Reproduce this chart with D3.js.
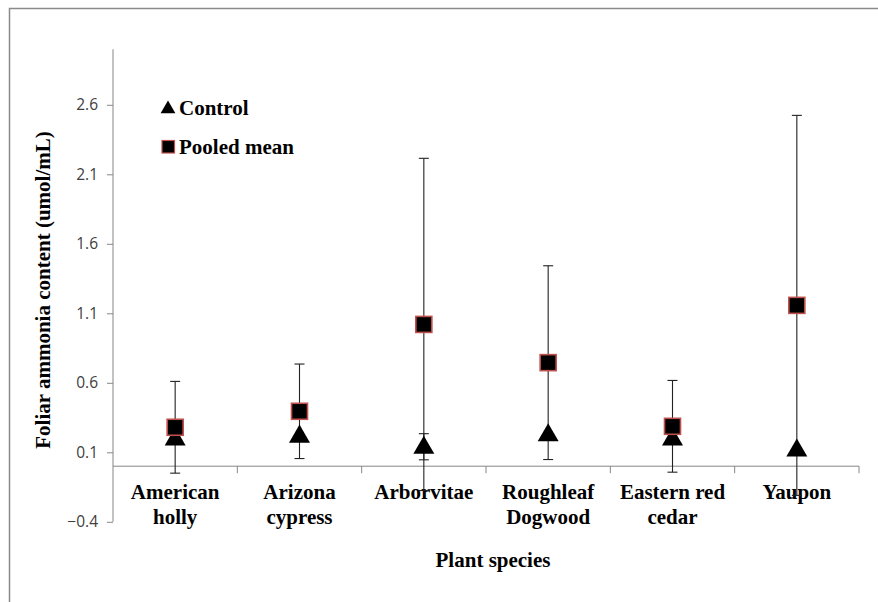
<!DOCTYPE html>
<html><head><meta charset="utf-8">
<script src="https://cdn.jsdelivr.net/npm/d3@7"></script>
<style>html,body{margin:0;padding:0;background:#fff;} svg{display:block;}</style>
</head><body>
<script>
const categories = ["American holly","Arizona cypress","Arborvitae","Roughleaf Dogwood","Eastern red cedar","Yaupon"];
const categoryLines = [["American","holly"],["Arizona","cypress"],["Arborvitae"],["Roughleaf","Dogwood"],["Eastern red","cedar"],["Yaupon"]];
const controlValues = [0.20, 0.22, 0.14, 0.23, 0.20, 0.12];
const controlErrors = [null, null, 0.094, null, null, null];
const pooledValues = [0.28, 0.395, 1.02, 0.745, 0.287, 1.157];
const pooledErrors = [0.33, 0.34, 1.195, 0.697, 0.33, 1.367];
const yTicks = [-0.4, 0.1, 0.6, 1.1, 1.6, 2.1, 2.6];
const seriesNames = ["Control", "Pooled mean"];

const W = 878, H = 602;
const svg = d3.select("body").append("svg").attr("width", W).attr("height", H);

svg.append("rect").attr("x", 9.5).attr("y", 8.5).attr("width", 1000).attr("height", 800)
  .attr("fill", "none").attr("stroke", "#8a8a8a").attr("stroke-width", 1.5);

const x = d3.scaleBand().domain(categories).range([113, 859]).padding(0);
const y = d3.scaleLinear().domain([-0.4, 3.0]).range([521.8, 49.2]);
const cx = c => x(c) + x.bandwidth() / 2;
const axisColor = "#868686";

// y axis
const yAxis = d3.axisLeft(y).tickValues(yTicks).tickSize(6).tickPadding(9).tickFormat(d3.format(".1f"));
const gy = svg.append("g").attr("transform", "translate(113,0)").call(yAxis);
gy.select(".domain").remove();
gy.append("line").attr("x1", 0).attr("x2", 0).attr("y1", y(3.0)).attr("y2", y(-0.4)).attr("stroke", axisColor);
gy.selectAll(".tick line").attr("stroke", axisColor);
gy.selectAll(".tick text").attr("fill", "#404040").style("font-family", "'Open Sans', Lato, sans-serif").style("font-size", "15.5px");

// x axis line at 0
const gx = svg.append("g");
gx.append("line").attr("x1", 113).attr("x2", 859).attr("y1", y(0)).attr("y2", y(0)).attr("stroke", axisColor);
gx.selectAll("line.tk").data(categories).enter().append("line").attr("class", "tk")
  .attr("x1", d => x(d) + x.bandwidth()).attr("x2", d => x(d) + x.bandwidth())
  .attr("y1", y(0)).attr("y2", y(0) + 7).attr("stroke", axisColor);

// category labels
const serif = "'Liberation Serif', 'Times New Roman', serif";
categories.forEach((c, i) => {
  const t = svg.append("text").attr("x", cx(c)).attr("y", 499).attr("text-anchor", "middle")
    .style("font-family", serif).style("font-weight", "bold").style("font-size", "21px").attr("fill", "#000");
  categoryLines[i].forEach((ln, j) => {
    t.append("tspan").attr("x", cx(c)).attr("dy", j === 0 ? 0 : 25).text(ln);
  });
});

// axis titles
svg.append("text").attr("x", 493).attr("y", 567).attr("text-anchor", "middle")
  .style("font-family", serif).style("font-weight", "bold").style("font-size", "21px").text("Plant species");
svg.append("text").attr("transform", "translate(50,290) rotate(-90)").attr("text-anchor", "middle")
  .style("font-family", serif).style("font-weight", "bold").style("font-size", "21px").text("Foliar ammonia content (umol/mL)");

// error bars
function errBars(vals, errs) {
  categories.forEach((c, i) => {
    if (errs[i] == null) return;
    const hi = y(vals[i] + errs[i]), lo = y(vals[i] - errs[i]), xc = cx(c);
    svg.append("line").attr("x1", xc).attr("x2", xc).attr("y1", hi).attr("y2", lo).attr("stroke", "#222").attr("stroke-width", 1.1);
    [hi, lo].forEach(yy => svg.append("line").attr("x1", xc - 5).attr("x2", xc + 5).attr("y1", yy).attr("y2", yy).attr("stroke", "#222").attr("stroke-width", 1.1));
  });
}
errBars(pooledValues, pooledErrors);
errBars(controlValues, controlErrors);

const tri = d3.symbol().type(d3.symbolTriangle).size(190);
// control triangles
svg.selectAll("path.ctrl").data(categories).enter().append("path").attr("class", "ctrl")
  .attr("d", tri).attr("transform", (d, i) => `translate(${cx(d)},${y(controlValues[i]) + 1})`).attr("fill", "#000");
// pooled squares
svg.selectAll("rect.pool").data(categories).enter().append("rect").attr("class", "pool")
  .attr("x", d => cx(d) - 8).attr("y", (d, i) => y(pooledValues[i]) - 8).attr("width", 16).attr("height", 16)
  .attr("fill", "#000").attr("stroke", "#c0504d").attr("stroke-width", 1.6);

// legend
const lg = svg.append("g");
lg.append("path").attr("d", d3.symbol().type(d3.symbolTriangle).size(95)).attr("transform", "translate(168,109)").attr("fill", "#000");
lg.append("text").attr("x", 179).attr("y", 115).style("font-family", serif).style("font-weight", "bold").style("font-size", "21px").text(seriesNames[0]);
lg.append("rect").attr("x", 162).attr("y", 140.5).attr("width", 12.5).attr("height", 12.5).attr("fill", "#000").attr("stroke", "#c0504d").attr("stroke-width", 1.2);
lg.append("text").attr("x", 179).attr("y", 154).style("font-family", serif).style("font-weight", "bold").style("font-size", "21px").text(seriesNames[1]);
</script>
</body></html>
